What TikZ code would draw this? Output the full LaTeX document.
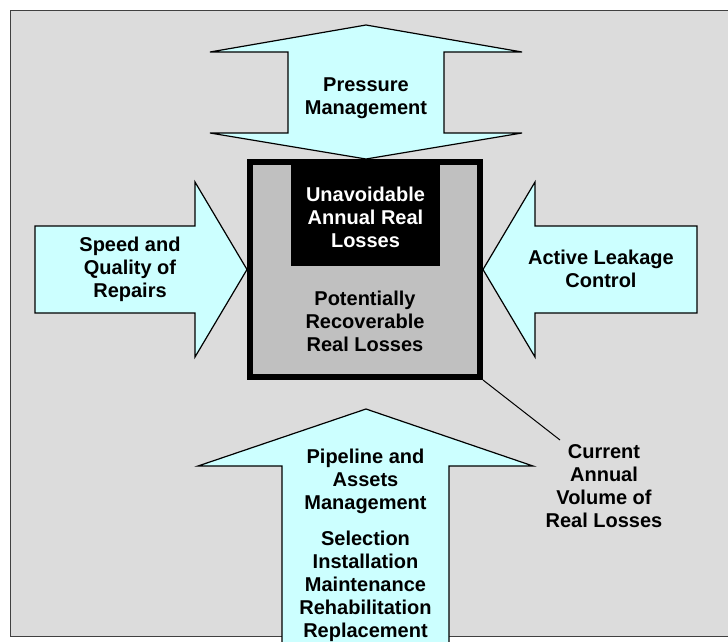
\documentclass[tikz,border=0pt]{standalone}
\usepackage{fontspec}
\setmainfont{Liberation Sans}
\begin{document}
\begin{tikzpicture}[x=1pt,y=-1pt,
  lbl/.style={font=\bfseries\fontsize{20}{23}\selectfont,align=center,inner sep=0pt},
  arrowshape/.style={draw=black,line width=1.2pt,fill=cyanfill,line join=miter},
]
\definecolor{bggray}{HTML}{DCDCDC}
\definecolor{cyanfill}{HTML}{CCFFFF}
\definecolor{boxgray}{HTML}{C0C0C0}
\useasboundingbox (0,0) rectangle (728,641);
\fill[white] (0,0) rectangle (728,641);
% panel background
\fill[bggray] (10,10) rectangle (728,636);
\draw[line width=1pt,black!75] (728,10) -- (10,10) -- (10,636) -- (728,636);

% top double-headed arrow
\draw[arrowshape] (366,25) -- (522,52) -- (444,52) -- (444,133) -- (522,133)
  -- (366,159) -- (210,133) -- (288,133) -- (288,52) -- (210,52) -- cycle;
% left arrow
\draw[arrowshape] (35,226) -- (195,226) -- (195,182) -- (247,269.5)
  -- (195,357) -- (195,313) -- (35,313) -- cycle;
% right arrow
\draw[arrowshape] (697,226) -- (535,226) -- (535,182) -- (483,269.5)
  -- (535,357) -- (535,313) -- (697,313) -- cycle;
% bottom arrow
\draw[arrowshape] (282,645) -- (282,466) -- (198,466) -- (366,409)
  -- (533,466) -- (449,466) -- (449,645);

% central box
\node[draw=black,line width=6pt,fill=boxgray,minimum width=230pt,minimum height=215pt,
  inner sep=0pt] (box) at (365,269.5) {};
\fill[black] (291,159) rectangle (440,266);
\node[lbl,text=white] (unavoid) at (365.5,217) {Unavoidable\\Annual Real\\Losses};
\node[lbl] (recover) at (365,321) {Potentially\\Recoverable\\Real Losses};

% arrow captions
\node[lbl] (pressure) at (366,98.5) {Pressure\\Management};
\node[lbl] (speed) at (130,269) {Speed and\\Quality of\\Repairs};
\node[lbl] (alc) at (601,269) {Active Leakage\\Control};
\node[lbl] (pipe) at (365.5,481) {Pipeline and\\Assets\\Management};
\node[lbl] (tasks) at (365.5,586) {Selection\\Installation\\Maintenance\\Rehabilitation\\Replacement};

% callout
\node[lbl] (current) at (604,486.5) {Current\\Annual\\Volume of\\Real Losses};
\coordinate (callend) at (560,440);
\draw[line width=1pt] (box.south east) -- (callend);
\end{tikzpicture}
\end{document}
